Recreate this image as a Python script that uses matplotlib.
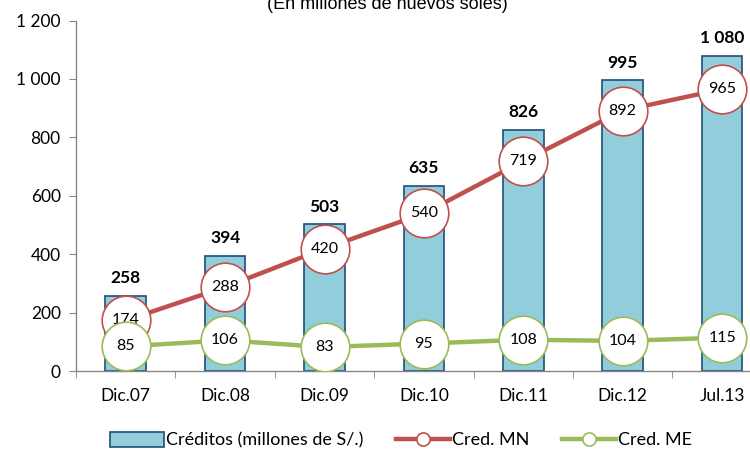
import matplotlib
matplotlib.use("Agg")
import matplotlib.pyplot as plt
from matplotlib.ticker import FuncFormatter, FixedLocator
from matplotlib.lines import Line2D
from matplotlib.patches import Patch
import numpy as np

categories = ["Dic.07", "Dic.08", "Dic.09", "Dic.10", "Dic.11", "Dic.12", "Jul.13"]
creditos = [258, 394, 503, 635, 826, 995, 1080]
cred_mn = [174, 288, 420, 540, 719, 892, 965]
cred_me = [85, 106, 83, 95, 108, 104, 115]

plt.rcParams['font.family'] = ['Lato', 'DejaVu Sans']

BAR_FACE = "#92CDDC"
BAR_EDGE = "#1F4E79"
RED = "#C0504D"
GREEN = "#9BBB59"
AXC = "#868686"

fig = plt.figure(figsize=(7.5, 4.51), dpi=100)
W, H = 750, 451
x0, x1 = 76, 76 + 7 * 99.4
yb, yt = 371.3, 20.5
ax = fig.add_axes([x0 / W, (H - yb) / H, (x1 - x0) / W, (yb - yt) / H])

x = np.arange(len(categories))
ax.bar(x, creditos, width=0.41, color=BAR_FACE, edgecolor=BAR_EDGE, linewidth=1.2, zorder=2)
for xi, v in zip(x, creditos):
    lab = f"{v:,}".replace(",", " ")
    ax.annotate(lab, (xi, v), xytext=(0, 7), textcoords="offset points",
                ha="center", va="bottom", fontsize=12.5, fontweight="bold", zorder=3)

ax.plot(x, cred_mn, color=RED, lw=3.2, marker="o", markersize=35,
        markerfacecolor="white", markeredgecolor=RED, markeredgewidth=1.2, zorder=4)
for xi, v in zip(x, cred_mn):
    ax.text(xi, v, str(v), ha="center", va="center", fontsize=11.5, zorder=5)

ax.plot(x, cred_me, color=GREEN, lw=3.2, marker="o", markersize=35,
        markerfacecolor="white", markeredgecolor=GREEN, markeredgewidth=1.2, zorder=6)
for xi, v in zip(x, cred_me):
    ax.text(xi, v, str(v), ha="center", va="center", fontsize=11.5, zorder=7)

ax.set_xlim(-0.5, 6.5)
ax.set_ylim(0, 1200)
ax.set_yticks(range(0, 1201, 200))
ax.yaxis.set_major_formatter(FuncFormatter(lambda v, p: f"{int(v):,}".replace(",", " ")))
ax.set_xticks(x)
ax.set_xticklabels(categories)
ax.tick_params(axis="x", which="major", length=0, pad=12, labelsize=12.5)
ax.xaxis.set_minor_locator(FixedLocator(np.arange(-0.5, 7, 1.0)))
ax.tick_params(axis="x", which="minor", length=5, color=AXC, direction="out")
ax.tick_params(axis="y", length=5, color=AXC, direction="out", labelsize=12.5, pad=6)

for s in ["top", "right"]:
    ax.spines[s].set_visible(False)
for s in ["left", "bottom"]:
    ax.spines[s].set_color(AXC)
    ax.spines[s].set_linewidth(1.0)

fig.text(387 / W, 1 - 9 / H, "(En millones de nuevos soles)", ha="center", va="baseline",
         fontsize=13, family=["Liberation Sans", "DejaVu Sans"])

handles = [
    Patch(facecolor=BAR_FACE, edgecolor=BAR_EDGE, linewidth=1.2),
    Line2D([0], [0], color=RED, lw=3.2, marker="o", markersize=9.5,
           markerfacecolor="white", markeredgecolor=RED, markeredgewidth=1.2),
    Line2D([0], [0], color=GREEN, lw=3.2, marker="o", markersize=9.5,
           markerfacecolor="white", markeredgecolor=GREEN, markeredgewidth=1.2),
]
labels = ["Créditos (millones de S/.)", "Cred. MN", "Cred. ME"]
fig.legend(handles, labels, loc="center", bbox_to_anchor=(401 / W, 1 - 440 / H), ncol=3,
           frameon=False, fontsize=13, handlelength=3.0, handletextpad=0.1,
           columnspacing=1.8, handleheight=0.9)

fig.savefig("out.png", dpi=100)
